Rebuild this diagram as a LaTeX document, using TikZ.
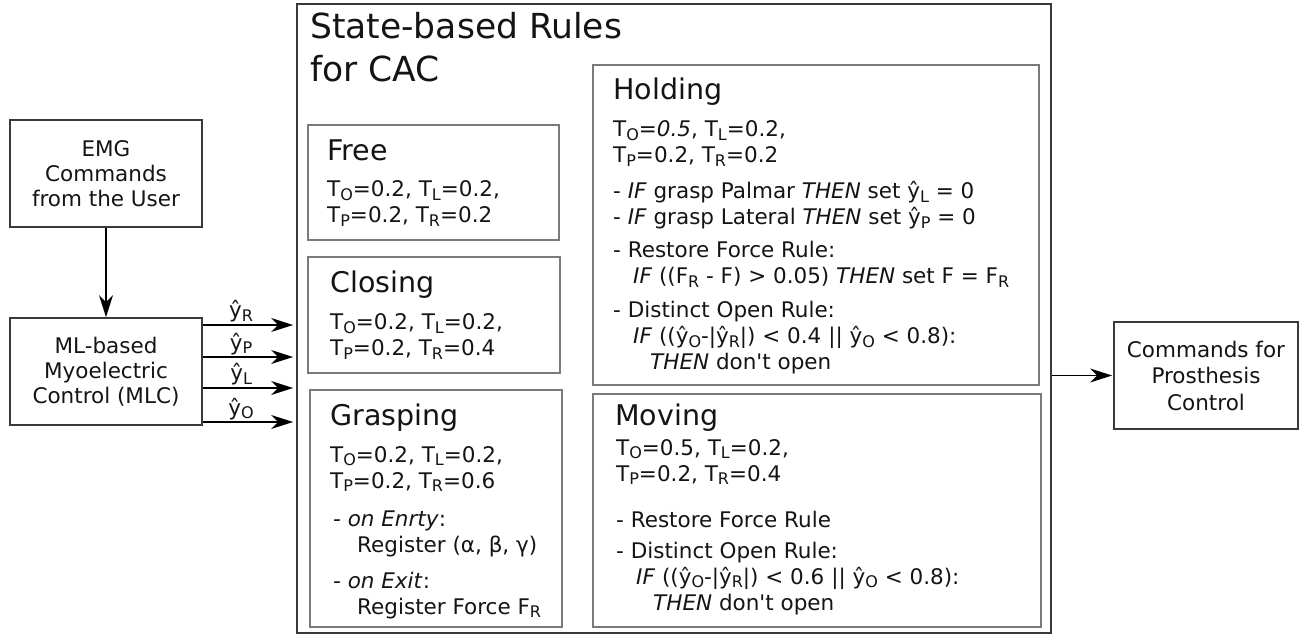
\documentclass[tikz,border=0pt]{standalone}
\usepackage{fontspec}
\setmainfont{DejaVu Sans}
\usetikzlibrary{arrows.meta}
\definecolor{bdark}{HTML}{3A3A3A}
\definecolor{bgray}{HTML}{7A7A7A}
\definecolor{txt}{HTML}{141414}
\newcommand{\lo}[1]{\raisebox{-3.5pt}{\fontsize{16}{16}\selectfont #1}}
\newcommand{\sz}{\fontsize{21.5}{26}\selectfont}
\newcommand{\hd}{\fontsize{28.5}{34}\selectfont}
\newcommand{\apos}{\textquotesingle}
\newcommand{\yh}{ŷ}
\begin{document}
\begin{tikzpicture}[x=1pt,y=-1pt,
  outbox/.style={draw=bdark, line width=1.8pt, inner sep=0pt},
  statebox/.style={draw=bgray, line width=1.8pt, inner sep=0pt},
  plain/.style={outbox, align=center, text=txt, font=\fontsize{21.5}{25}\selectfont},
  head/.style={anchor=base west, inner sep=0pt, text=txt, font=\hd},
  body/.style={anchor=base west, inner sep=0pt, text=txt, font=\sz},
  arr/.style={-{Stealth[length=22pt,width=14pt,inset=7pt]}, line width=1.5pt, draw=black},
  lab/.style={anchor=base, inner sep=0pt, text=txt, font=\sz}]
\useasboundingbox (0,0) rectangle (1304,636);

% left boxes
\node[plain, minimum width=192pt, minimum height=107pt] (emg) at (106,173.5) {EMG\\Commands\\from the User};
\node[plain, minimum width=192pt, minimum height=107pt] (mlc) at (106,371.5) {ML-based\\Myoelectric\\Control (MLC)};

% outer box
\node[outbox, minimum width=754pt, minimum height=629pt] (outer) at (674,318.5) {};
\node[anchor=base west, inner sep=0pt, text=txt, font=\fontsize{34.5}{43}\selectfont] (title) at (310,39)
  {\begin{tabular}[t]{@{}l@{}}State-based Rules\\for CAC\end{tabular}};

% state boxes
\node[statebox, minimum width=251pt, minimum height=115pt] (free) at (433.5,182.5) {};
\node[statebox, minimum width=252pt, minimum height=116pt] (closing) at (434,315) {};
\node[statebox, minimum width=252pt, minimum height=237pt] (grasping) at (436,508.5) {};
\node[statebox, minimum width=446pt, minimum height=320pt] (holding) at (816,225) {};
\node[statebox, minimum width=448pt, minimum height=233pt] (moving) at (817,510.5) {};

% output box
\node[plain, minimum width=184pt, minimum height=107pt, font=\fontsize{21.5}{26.5}\selectfont] (cmd) at (1206,375.5) {Commands for\\Prosthesis\\Control};

% Free
\node[head] (freeT) at (327,161) {Free};
\node[body] (freeB) at (327,197) {\begin{tabular}[t]{@{}l@{}}
T\lo{O}=0.2, T\lo{L}=0.2,\\
T\lo{P}=0.2, T\lo{R}=0.2\end{tabular}};

% Closing
\node[head] (closT) at (330,293) {Closing};
\node[body] (closB) at (330,330) {\begin{tabular}[t]{@{}l@{}}
T\lo{O}=0.2, T\lo{L}=0.2,\\
T\lo{P}=0.2, T\lo{R}=0.4\end{tabular}};

% Grasping
\node[head] (grasT) at (330,425) {Grasping};
\node[body] (grasB) at (330,462) {\begin{tabular}[t]{@{}l@{}}
T\lo{O}=0.2, T\lo{L}=0.2,\\
T\lo{P}=0.2, T\lo{R}=0.6\\[12pt]
\hspace*{3pt}\textit{- on Enrty}:\\
\hspace*{27pt}Register (α, β, γ)\\[10pt]
\hspace*{3pt}\textit{- on Exit}:\\
\hspace*{27pt}Register Force F\lo{R}\end{tabular}};

% Holding
\node[head] (holdT) at (613,100) {Holding};
\node[body] (holdB) at (613,137) {\begin{tabular}[t]{@{}l@{}}
T\lo{O}=\textit{0.5}, T\lo{L}=0.2,\\
T\lo{P}=0.2, T\lo{R}=0.2\\[10pt]
- \textit{IF} grasp Palmar \textit{THEN} set \yh\lo{L} = 0\\
- \textit{IF} grasp Lateral \textit{THEN} set \yh\lo{P} = 0\\[7pt]
- Restore Force Rule:\\
\hspace*{20pt}\textit{IF} ((F\lo{R} - F) > 0.05) \textit{THEN} set F = F\lo{R}\\[8pt]
- Distinct Open Rule:\\
\hspace*{20pt}\textit{IF} ((\yh\lo{O}-|\yh\lo{R}|) < 0.4 || \yh\lo{O} < 0.8):\\
\hspace*{37pt}\textit{THEN} don\apos t open\end{tabular}};

% Moving
\node[head] (movT) at (615,425) {Moving};
\node[body] (movB) at (616,455) {\begin{tabular}[t]{@{}l@{}}
T\lo{O}=0.5, T\lo{L}=0.2,\\
T\lo{P}=0.2, T\lo{R}=0.4\\[20pt]
- Restore Force Rule\\[5pt]
- Distinct Open Rule:\\
\hspace*{20pt}\textit{IF} ((\yh\lo{O}-|\yh\lo{R}|) < 0.6 || \yh\lo{O} < 0.8):\\
\hspace*{37pt}\textit{THEN} don\apos t open\end{tabular}};

% connectors
\draw[arr] (emg.south) -- (mlc.north);
\draw[arr, shorten >=3pt] (mlc.east |- 0,325) -- (outer.west |- 0,325) node[lab, pos=0.41, yshift=7pt] {\yh\lo{R}};
\draw[arr, shorten >=3pt] (mlc.east |- 0,357) -- (outer.west |- 0,357) node[lab, pos=0.41, yshift=7pt] {\yh\lo{P}};
\draw[arr, shorten >=3pt] (mlc.east |- 0,388) -- (outer.west |- 0,388) node[lab, pos=0.41, yshift=7pt] {\yh\lo{L}};
\draw[arr, shorten >=3pt] (mlc.east |- 0,422) -- (outer.west |- 0,422) node[lab, pos=0.41, yshift=7pt] {\yh\lo{O}};
\draw[arr, shorten >=1pt] (outer.east |- cmd.west) -- (cmd.west);
\end{tikzpicture}
\end{document}
